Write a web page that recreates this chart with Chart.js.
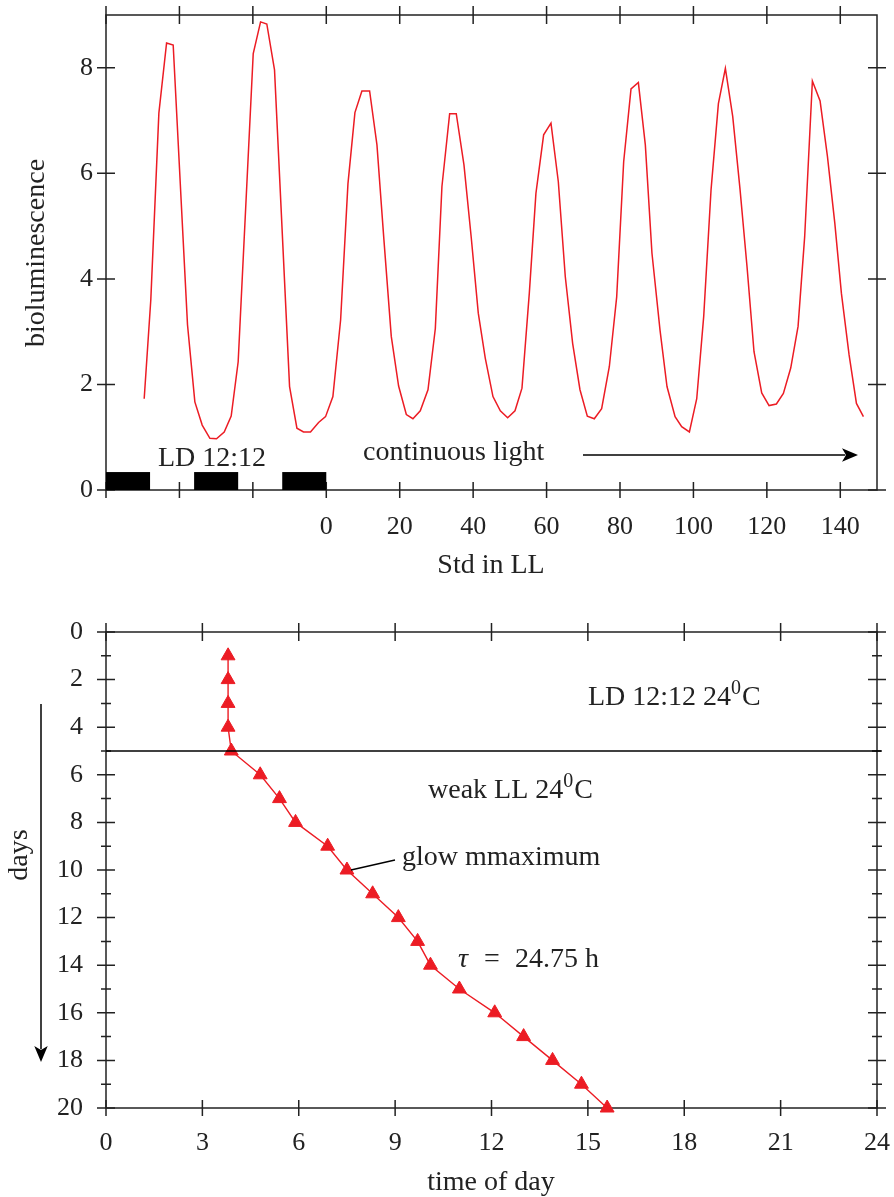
<!DOCTYPE html>
<html>
<head>
<meta charset="utf-8">
<script src="https://cdn.jsdelivr.net/npm/chart.js@4.4.0/dist/chart.umd.min.js"></script>
<style>
  html, body { margin: 0; padding: 0; background: #fff; }
  #wrap { position: relative; width: 894px; height: 1197px; }
  canvas { position: absolute; left: 0; }
</style>
</head>
<body>
<div id="wrap">
  <canvas id="glowChart" width="894" height="595" style="top:0"></canvas>
  <canvas id="phaseChart" width="894" height="602" style="top:595px"></canvas>
</div>
<script>
// ---- top panel: bioluminescence record ----
const stdHours = [-49.6, -47.8, -45.6, -43.5, -41.7, -37.8, -35.8, -33.8, -31.7, -29.9, -27.8, -25.9, -24.0,
  -19.9, -17.9, -16.2, -14.1, -10.0, -8.0, -6.2, -4.3, -2.1, -0.2, 1.8, 3.9, 5.9, 7.8, 9.7, 11.8, 13.8, 15.7,
  17.7, 19.7, 21.8, 23.6, 25.6, 27.7, 29.7, 31.5, 33.6, 35.4, 37.5, 39.5, 41.4, 43.3, 45.4, 47.4, 49.4, 51.4,
  53.3, 55.3, 57.1, 59.2, 61.2, 63.2, 65.1, 67.1, 69.1, 71.1, 73.0, 75.0, 77.1, 79.1, 81.0, 83.0, 85.0, 86.9,
  88.7, 90.9, 92.8, 95.0, 96.8, 98.9, 100.9, 102.8, 104.8, 106.8, 108.7, 110.7, 112.7, 114.6, 116.5, 118.6,
  120.6, 122.6, 124.5, 126.5, 128.5, 130.3, 132.4, 134.5, 136.5, 138.5, 140.3, 142.4, 144.4, 146.3];
const glow = [1.73, 3.6, 7.14, 8.47, 8.43, 3.13, 1.67, 1.23, 0.98, 0.97, 1.10, 1.40, 2.43,
  8.27, 8.87, 8.83, 7.96, 1.96, 1.17, 1.10, 1.10, 1.28, 1.39, 1.77, 3.22, 5.8, 7.15, 7.56, 7.56, 6.54, 4.74,
  2.91, 1.97, 1.43, 1.35, 1.50, 1.90, 3.06, 5.75, 7.13, 7.13, 6.16, 4.77, 3.35, 2.50, 1.77, 1.50, 1.37, 1.50,
  1.93, 3.73, 5.62, 6.73, 6.95, 5.84, 4.04, 2.78, 1.90, 1.40, 1.35, 1.54, 2.34, 3.66, 6.22, 7.60, 7.72, 6.54,
  4.49, 3.03, 1.96, 1.39, 1.20, 1.10, 1.73, 3.29, 5.69, 7.32, 7.99, 7.08, 5.69, 4.23, 2.62, 1.84,
  1.60, 1.63, 1.83, 2.31, 3.10, 4.80, 7.75, 7.37, 6.32, 5.06, 3.73, 2.56, 1.64, 1.39];
const darkStart = [-60, -36, -12];
const darkEnd = [-48, -24, 0];
const stdTicks = [-60, -40, -20, 0, 20, 40, 60, 80, 100, 120, 140];
const glowTicks = [0, 2, 4, 6, 8];

// ---- bottom panel: time of glow maximum per day ----
const dayNumber = [1, 2, 3, 4, 5, 6, 7, 8, 9, 10, 11, 12, 13, 14, 15, 16, 17, 18, 19, 20];
const peakTime = [3.8, 3.8, 3.8, 3.8, 3.9, 4.8, 5.4, 5.9, 6.9, 7.5, 8.3, 9.1, 9.7, 10.1, 11.0, 12.1, 13.0, 13.9, 14.8, 15.6];
const timeTicks = [0, 3, 6, 9, 12, 15, 18, 21, 24];
const dayTicks = [0, 2, 4, 6, 8, 10, 12, 14, 16, 18, 20];
const dayMinor = [1, 3, 5, 7, 9, 11, 13, 15, 17, 19];

const INK = '#222';
const RED = '#ec1c24';
const SERIF = '"Liberation Serif", "DejaVu Serif", serif';
const TXT = 28;
const tickFont = { family: SERIF, size: 26 };

// box + ticks crossing all four sides
const frame = {
  id: 'frame',
  beforeDatasetsDraw(chart, args, opts) {
    const { ctx, chartArea: a, scales: { x, y } } = chart;
    ctx.save();
    ctx.strokeStyle = INK;
    ctx.lineWidth = 1.5;
    ctx.strokeRect(a.left, a.top, a.width, a.height);
    ctx.beginPath();
    opts.xMajor.forEach(v => {
      const px = x.getPixelForValue(v);
      ctx.moveTo(px, a.top - 9); ctx.lineTo(px, a.top + 9);
      ctx.moveTo(px, a.bottom - 8); ctx.lineTo(px, a.bottom + 8);
    });
    opts.yMajor.forEach(v => {
      const py = y.getPixelForValue(v);
      ctx.moveTo(a.left - 9, py); ctx.lineTo(a.left + 9, py);
      ctx.moveTo(a.right - 9, py); ctx.lineTo(a.right + 9, py);
    });
    (opts.yMinor || []).forEach(v => {
      const py = y.getPixelForValue(v);
      ctx.moveTo(a.left - 5, py); ctx.lineTo(a.left + 5, py);
      ctx.moveTo(a.right - 5, py); ctx.lineTo(a.right + 5, py);
    });
    ctx.stroke();
    ctx.restore();
  }
};

function arrow(ctx, x0, y0, x1, y1, head) {
  const ang = Math.atan2(y1 - y0, x1 - x0);
  const c = Math.cos(ang), s = Math.sin(ang);
  ctx.beginPath();
  ctx.moveTo(x0, y0);
  ctx.lineTo(x1 - c * head * 0.8, y1 - s * head * 0.8);
  ctx.stroke();
  ctx.beginPath();
  ctx.moveTo(x1, y1);
  ctx.lineTo(x1 - head * c + head * 0.42 * s, y1 - head * s - head * 0.42 * c);
  ctx.lineTo(x1 - head * 0.75 * c, y1 - head * 0.75 * s);
  ctx.lineTo(x1 - head * c - head * 0.42 * s, y1 - head * s + head * 0.42 * c);
  ctx.closePath();
  ctx.fill();
}

// text with a raised "0" (degree written as superscript zero)
function supText(ctx, parts, x, y, size) {
  let cx = x;
  parts.forEach(([t, sup]) => {
    ctx.font = (sup ? Math.round(size * 0.72) : size) + 'px ' + SERIF;
    ctx.fillText(t, cx, sup ? y - size * 0.38 : y);
    cx += ctx.measureText(t).width + (sup ? 1 : 0);
  });
}

function vertLabel(ctx, text, x, y, size) {
  ctx.save();
  ctx.translate(x, y);
  ctx.rotate(-Math.PI / 2);
  ctx.font = size + 'px ' + SERIF;
  ctx.textAlign = 'center';
  ctx.textBaseline = 'middle';
  ctx.fillText(text, 0, 0);
  ctx.restore();
}

const topNotes = {
  id: 'topNotes',
  afterDatasetsDraw(chart) {
    const { ctx, scales: { x, y } } = chart;
    ctx.save();
    ctx.fillStyle = '#000';
    const y0 = y.getPixelForValue(0), y1 = y.getPixelForValue(0.34);
    darkStart.forEach((s, i) => {
      const x0 = x.getPixelForValue(s), x1 = x.getPixelForValue(darkEnd[i]);
      ctx.fillRect(x0, y1, x1 - x0, y0 - y1);
    });
    ctx.fillStyle = INK;
    ctx.font = TXT + 'px ' + SERIF;
    ctx.textBaseline = 'alphabetic';
    ctx.fillText('LD 12:12', 158, 466);
    ctx.fillText('continuous light', 363, 460);
    ctx.strokeStyle = '#000';
    ctx.fillStyle = '#000';
    ctx.lineWidth = 1.6;
    arrow(ctx, 583, 455, 858, 455, 16);
    ctx.fillStyle = INK;
    vertLabel(ctx, 'bioluminescence', 37, 253, TXT);
    ctx.font = TXT + 'px ' + SERIF;
    ctx.textAlign = 'center';
    ctx.textBaseline = 'middle';
    ctx.fillText('Std in LL', 491, 566);
    ctx.restore();
  }
};

const bottomNotes = {
  id: 'bottomNotes',
  afterDatasetsDraw(chart) {
    const { ctx, chartArea: a, scales: { x, y } } = chart;
    ctx.save();
    ctx.strokeStyle = '#000';
    ctx.lineWidth = 1.5;
    const py = y.getPixelForValue(5);
    ctx.beginPath();
    ctx.moveTo(a.left, py); ctx.lineTo(a.right + 4, py);
    ctx.stroke();
    ctx.fillStyle = INK;
    ctx.textBaseline = 'alphabetic';
    supText(ctx, [['LD 12:12 24', false], ['0', true], ['C', false]], 588, 110, TXT);
    supText(ctx, [['weak LL 24', false], ['0', true], ['C', false]], 428, 203, TXT);
    ctx.font = TXT + 'px ' + SERIF;
    ctx.fillText('glow mmaximum', 402, 270);
    // leader line to the day-10 maximum
    ctx.lineWidth = 1.3;
    ctx.beginPath();
    ctx.moveTo(x.getPixelForValue(peakTime[9]) + 4, y.getPixelForValue(dayNumber[9]));
    ctx.lineTo(395, 265);
    ctx.stroke();
    ctx.font = 'italic ' + TXT + 'px ' + SERIF;
    ctx.fillText('\u03C4', 458, 372);
    ctx.font = TXT + 'px ' + SERIF;
    ctx.fillText('=', 484, 372);
    ctx.fillText('24.75 h', 515, 372);
    ctx.fillStyle = '#000';
    ctx.lineWidth = 1.5;
    arrow(ctx, 41, 109, 41, 467, 16);
    ctx.fillStyle = INK;
    vertLabel(ctx, 'days', 20, 260, TXT);
    ctx.textAlign = 'center';
    ctx.textBaseline = 'middle';
    ctx.font = TXT + 'px ' + SERIF;
    ctx.fillText('time of day', 491, 588);
    ctx.restore();
  }
};

new Chart(document.getElementById('glowChart'), {
  type: 'line',
  data: {
    datasets: [{
      data: stdHours.map((h, i) => ({ x: h, y: glow[i] })),
      borderColor: RED,
      borderWidth: 1.5,
      pointRadius: 0,
      tension: 0,
      fill: false
    }]
  },
  options: {
    responsive: false,
    animation: false,
    devicePixelRatio: 1,
    layout: { padding: { top: 15, right: 17, left: 0, bottom: 0 } },
    plugins: {
      legend: { display: false },
      tooltip: { enabled: false },
      frame: { xMajor: stdTicks, yMajor: glowTicks }
    },
    scales: {
      x: {
        type: 'linear', min: -60, max: 150,
        grid: { display: false, drawTicks: false },
        border: { display: false },
        afterBuildTicks: s => { s.ticks = stdTicks.map(v => ({ value: v })); },
        ticks: { callback: v => (v < 0 ? '' : v), font: tickFont, color: INK, padding: 22, maxRotation: 0, autoSkip: false },
        afterFit: s => { s.height = 105; s.paddingLeft = 0; s.paddingRight = 0; }
      },
      y: {
        type: 'linear', min: 0, max: 9,
        grid: { display: false, drawTicks: false },
        border: { display: false },
        afterBuildTicks: s => { s.ticks = glowTicks.map(v => ({ value: v })); },
        ticks: { font: tickFont, color: INK, padding: 13 },
        afterFit: s => { s.width = 106; s.paddingTop = 0; s.paddingBottom = 0; }
      }
    }
  },
  plugins: [frame, topNotes]
});

new Chart(document.getElementById('phaseChart'), {
  type: 'line',
  data: {
    datasets: [{
      data: peakTime.map((t, i) => ({ x: t, y: dayNumber[i] })),
      borderColor: RED,
      borderWidth: 1.4,
      backgroundColor: RED,
      pointStyle: 'triangle',
      pointRadius: 8,
      pointBorderWidth: 1,
      tension: 0,
      fill: false,
      clip: false
    }]
  },
  options: {
    responsive: false,
    animation: false,
    devicePixelRatio: 1,
    layout: { padding: { top: 37, right: 17, left: 0, bottom: 0 } },
    plugins: {
      legend: { display: false },
      tooltip: { enabled: false },
      frame: { xMajor: timeTicks, yMajor: dayTicks, yMinor: dayMinor }
    },
    scales: {
      x: {
        type: 'linear', min: 0, max: 24,
        grid: { display: false, drawTicks: false },
        border: { display: false },
        afterBuildTicks: s => { s.ticks = timeTicks.map(v => ({ value: v })); },
        ticks: { font: tickFont, color: INK, padding: 20, maxRotation: 0, autoSkip: false },
        afterFit: s => { s.height = 89; s.paddingLeft = 0; s.paddingRight = 0; }
      },
      y: {
        type: 'linear', min: 0, max: 20, reverse: true,
        grid: { display: false, drawTicks: false },
        border: { display: false },
        afterBuildTicks: s => { s.ticks = dayTicks.map(v => ({ value: v })); },
        ticks: { font: tickFont, color: INK, padding: 23 },
        afterFit: s => { s.width = 106; s.paddingTop = 0; s.paddingBottom = 0; }
      }
    }
  },
  plugins: [frame, bottomNotes]
});
</script>
</body>
</html>
